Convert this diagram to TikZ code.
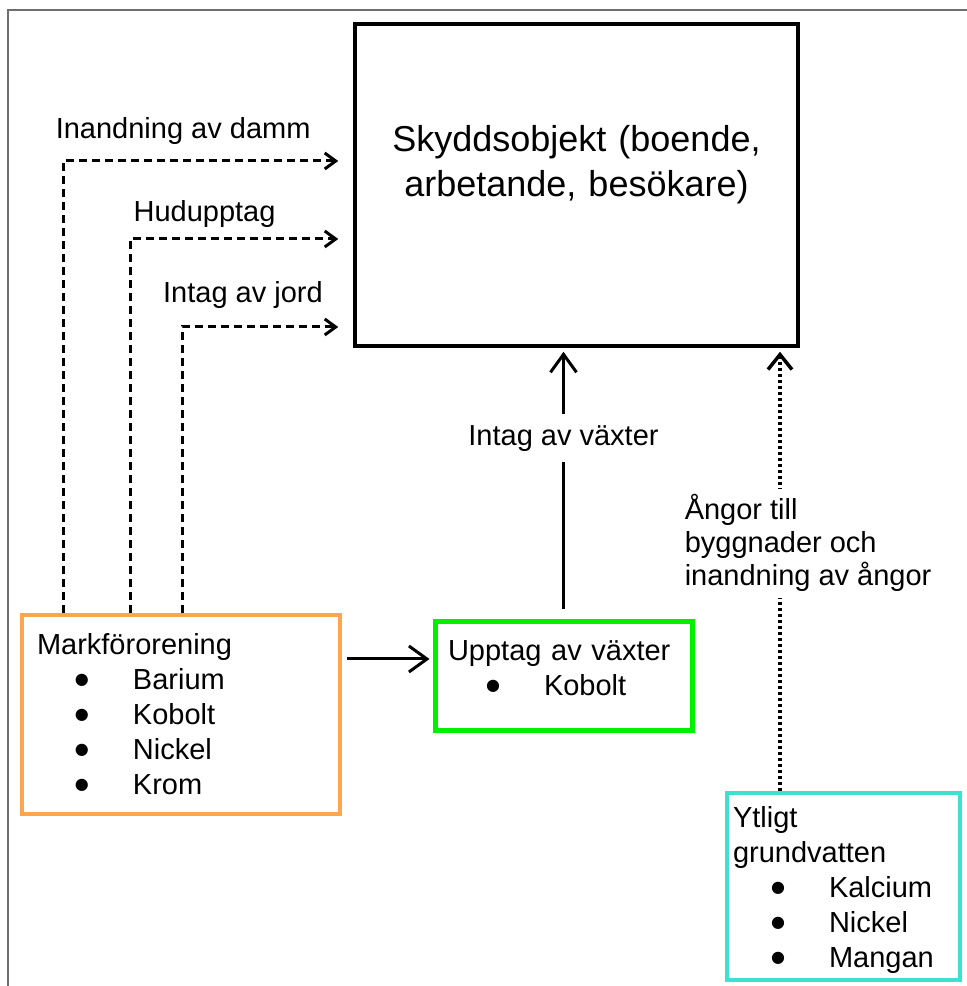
\documentclass[tikz,border=0pt]{standalone}
\usepackage{fontspec}
\setmainfont{Liberation Sans}
\newfontfamily\dejavu{DejaVu Sans}
\usepackage{tikz}
\usetikzlibrary{
	arrows.meta,
	calc,
	positioning
}
\definecolor{MarkOrange}{RGB}{255,166,77}
\definecolor{VaxtGreen}{RGB}{0,240,0}
\definecolor{VattenTurkos}{RGB}{64,224,208}
\definecolor{RamGray}{RGB}{110,110,110}
\newcommand{\punkt}[1]{\hspace*{38pt}\makebox[58pt][l]{\raisebox{5pt}{\dejavu\fontsize{16}{16}\selectfont ●}}#1}

\begin{document}
\begin{tikzpicture}[x=1pt, y=1pt,
		txt/.style={font=\fontsize{29}{35}\selectfont},
		lbl/.style={txt, anchor=base},
		pil/.style={line width=3pt, -{Straight Barb[length=18pt, width=26pt]}},
		strek/.style={line width=3pt, dash pattern=on 8pt off 5pt, -{Straight Barb[length=11pt, width=16pt]}, shorten >=15pt},
		prick/.style={line width=3.5pt, dash pattern=on 3pt off 3pt, -{Straight Barb[length=15pt, width=24pt]}, shorten >=4pt}]
		\useasboundingbox (0,0) rectangle (967,986);
		
		% ram
		\draw[RamGray, line width=2pt] (8,0) -- (8,976) -- (967,976);
		
		% rutor
		\node[draw, line width=3.5pt, minimum width=443pt, minimum height=322pt, inner sep=0pt,
			text width=413pt, align=center, font=\fontsize{36}{45}\selectfont]
			(skydd) at (576.5,801) {Skyddsobjekt (boende,\\arbetande, besökare)\rule[-48pt]{0pt}{48pt}};
		\node[draw=MarkOrange, line width=4pt, minimum width=318pt, minimum height=199pt,
			inner xsep=15pt, inner ysep=0pt, text width=288pt, align=left, txt]
			(mark) at (181,271.5) {Markförorening\\\punkt{Barium}\\\punkt{Kobolt}\\\punkt{Nickel}\\\punkt{Krom}};
		\node[draw=VaxtGreen, line width=5pt, minimum width=257pt, minimum height=109pt,
			inner xsep=13pt, inner ysep=0pt, text width=231pt, align=left, txt]
			(vaxt) at (563.5,309.5) {Upptag av växter\\\punkt{Kobolt}\rule[-16pt]{0pt}{16pt}};
		\node[draw=VattenTurkos, line width=3.5pt, minimum width=233pt, minimum height=187pt,
			inner xsep=6pt, inner ysep=0pt, text width=221pt, align=left, txt]
			(grund) at (843.5,99.5) {Ytligt\rule{0pt}{29pt}\\grundvatten\\\punkt{Kalcium}\\\punkt{Nickel}\\\punkt{Mangan}};
		
		% exponeringsvägar från jord
		\draw[strek] ([xshift=43pt]mark.north west) |- ([yshift=24pt]skydd.west)
			node[lbl, pos=.707, yshift=22pt] {Inandning av damm};
		\draw[strek] ([xshift=110pt]mark.north west) |- ([yshift=-54pt]skydd.west)
			node[lbl, pos=.667, yshift=17pt] {Hudupptag};
		\draw[strek] ([xshift=162pt]mark.north west) |- ([yshift=-142pt]skydd.west)
			node[lbl, pos=.678, yshift=24pt] {Intag av jord};
		
		% växter
		\coordinate (vin) at ([yshift=17.5pt]vaxt.west);
		\draw[pil, shorten <=5pt, shorten >=3pt] (mark.east |- vin) -- (vin);
		\draw[pil, shorten <=10pt, shorten >=4pt] (vaxt.north) -- (vaxt.north |- skydd.south)
			node[txt, pos=.667, fill=white, inner xsep=2pt, inner ysep=11pt] {Intag av växter};
		
		% grundvatten
		\coordinate (ut) at ([xshift=-63.5pt]grund.north);
		\draw[prick] (ut) -- (ut |- skydd.south)
			node[pos=.559, anchor=west, xshift=-97pt, fill=white, inner xsep=0pt, inner ysep=6pt,
				align=left, font=\fontsize{29}{33}\selectfont] {Ångor till\\byggnader och\\inandning av ångor};
	\end{tikzpicture}
\end{document}
